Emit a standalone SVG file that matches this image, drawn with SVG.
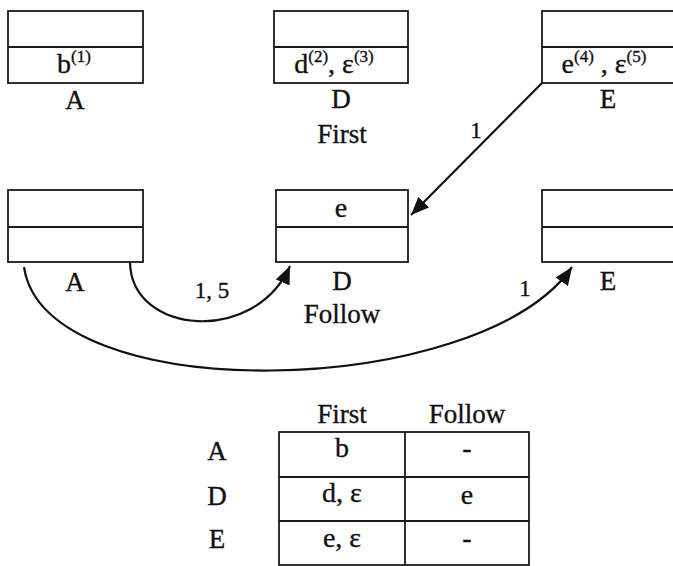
<svg xmlns="http://www.w3.org/2000/svg" width="673" height="566" viewBox="0 0 673 566">
  <style>
    .box { fill: none; stroke: #1a1a1a; stroke-width: 1.8; }
    .t { font-family: "Liberation Serif", "DejaVu Serif", serif; fill: #111; stroke: #111; stroke-width: 0.35; text-anchor: middle; }
    .lbl { font-size: 27px; }
    .cell { font-size: 28px; }
    .num { font-size: 23px; }
    .edge { fill: none; stroke: #111; stroke-width: 2.2; }
  </style>
  <defs>
    <marker id="arrow" markerUnits="userSpaceOnUse" markerWidth="20" markerHeight="15" refX="18" refY="7.5" orient="auto">
      <path d="M0,0 L18,7.5 L0,15 z" fill="#111"/>
    </marker>
  </defs>
  <rect width="673" height="566" fill="#fff"/>

  <!-- First sets -->
  <g id="first-A">
    <rect class="box" x="8" y="11" width="135" height="72"/>
    <line class="box" x1="8" y1="47" x2="143" y2="47"/>
    <text class="t cell" x="74" y="73">b<tspan font-size="17" dy="-11">(1)</tspan></text>
    <text class="t lbl" x="75" y="109">A</text>
  </g>
  <g id="first-D">
    <rect class="box" x="274" y="11" width="134" height="72"/>
    <line class="box" x1="274" y1="47" x2="408" y2="47"/>
    <text class="t cell" x="334" y="73">d<tspan font-size="17" dy="-11">(2)</tspan><tspan dy="11">, ε</tspan><tspan font-size="17" dy="-11">(3)</tspan></text>
    <text class="t lbl" x="341" y="108">D</text>
    <text class="t lbl" x="342" y="143">First</text>
  </g>
  <g id="first-E">
    <rect class="box" x="542" y="11" width="134" height="72"/>
    <line class="box" x1="542" y1="47" x2="676" y2="47"/>
    <text class="t cell" x="604" y="73">e<tspan font-size="17" dy="-11">(4)</tspan><tspan dy="11"> , ε</tspan><tspan font-size="17" dy="-11">(5)</tspan></text>
    <text class="t lbl" x="608" y="108">E</text>
  </g>

  <!-- Follow sets -->
  <g id="follow-A">
    <rect class="box" x="8" y="190" width="135" height="72"/>
    <line class="box" x1="8" y1="227" x2="143" y2="227"/>
    <text class="t lbl" x="75" y="291">A</text>
  </g>
  <g id="follow-D">
    <rect class="box" x="276" y="190" width="132" height="72"/>
    <line class="box" x1="276" y1="227" x2="408" y2="227"/>
    <text class="t cell" x="341" y="217">e</text>
    <text class="t lbl" x="342" y="290">D</text>
    <text class="t lbl" x="342" y="323">Follow</text>
  </g>
  <g id="follow-E">
    <rect class="box" x="542" y="190" width="134" height="72"/>
    <line class="box" x1="542" y1="227" x2="676" y2="227"/>
    <text class="t lbl" x="608" y="290">E</text>
  </g>

  <!-- Propagation edges -->
  <g id="edges">
    <path class="edge" d="M542,83 L411,215" marker-end="url(#arrow)"/>
    <path class="edge" d="M130,263 C132,335 255,345 290,266" marker-end="url(#arrow)"/>
    <path class="edge" d="M24,267 C45,410 480,400 572,267" marker-end="url(#arrow)"/>
    <text class="t num" x="476" y="138">1</text>
    <text class="t num" x="212" y="298">1, 5</text>
    <text class="t num" x="525" y="296">1</text>
  </g>

  <!-- Summary table -->
  <g id="table">
    <rect class="box" x="279" y="432" width="250" height="133"/>
    <line class="box" x1="405" y1="432" x2="405" y2="565"/>
    <line class="box" x1="279" y1="477" x2="529" y2="477"/>
    <line class="box" x1="279" y1="521" x2="529" y2="521"/>
    <text class="t lbl" x="342" y="423">First</text>
    <text class="t lbl" x="467" y="423">Follow</text>
    <text class="t lbl" x="217" y="460">A</text>
    <text class="t lbl" x="217" y="505">D</text>
    <text class="t lbl" x="217" y="548">E</text>
    <text class="t cell" x="342" y="457">b</text>
    <text class="t cell" x="467" y="457">-</text>
    <text class="t cell" x="342" y="502">d, ε</text>
    <text class="t cell" x="467" y="504">e</text>
    <text class="t cell" x="342" y="547">e, ε</text>
    <text class="t cell" x="467" y="547">-</text>
  </g>
</svg>
